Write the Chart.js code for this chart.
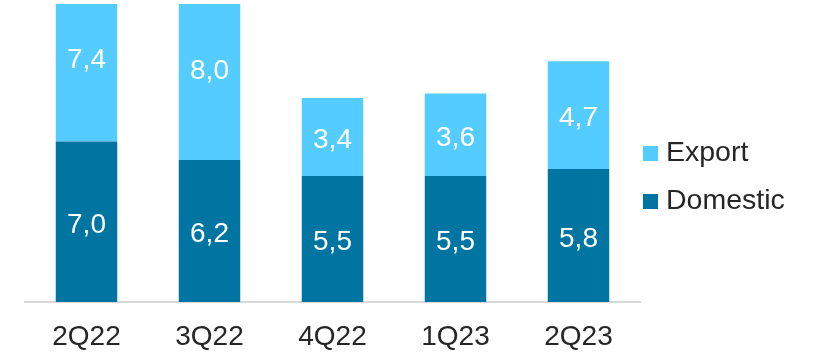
<!DOCTYPE html>
<html>
<head>
<meta charset="utf-8">
<script src="https://cdn.jsdelivr.net/npm/chart.js@4/dist/chart.umd.min.js"></script>
<style>
  html,body{margin:0;padding:0;background:#fff;}
  #wrap{width:833px;height:354px;position:relative;}
</style>
</head>
<body>
<div id="wrap"><canvas id="c" width="833" height="354"></canvas></div>
<script>
// quarters + series
const quarters = ['2Q22','3Q22','4Q22','1Q23','2Q23'];
const domestic = [7.0, 6.2, 5.5, 5.5, 5.8];
const exportV  = [7.4, 8.0, 3.4, 3.6, 4.7];

const C_DOM = '#0075A2';
const C_EXP = '#55CCFF';
const FONT = 'Liberation Sans, Arial, sans-serif';

const fmt = v => v.toFixed(1).replace('.', ',');

// value labels at centre of each (unclipped) segment, digits centred
const segLabels = {
  id:'segLabels',
  afterDatasetsDraw(chart){
    const ctx = chart.ctx;
    ctx.save();
    ctx.fillStyle = '#fff';
    ctx.font = '28px ' + FONT;
    ctx.textAlign = 'center';
    ctx.textBaseline = 'alphabetic';
    chart.data.datasets.forEach((ds,i)=>{
      chart.getDatasetMeta(i).data.forEach((bar,j)=>{
        const y = (bar.y + bar.base)/2;
        ctx.fillText(fmt(ds.data[j]), bar.x, y + 11);
      });
    });
    ctx.restore();
  }
};

// legend on the right, top series first
const sideLegend = {
  id:'sideLegend',
  afterDraw(chart){
    const ctx = chart.ctx;
    const items = chart.data.datasets.slice().reverse();
    ctx.save();
    ctx.font = '28.5px ' + FONT;
    ctx.textBaseline = 'alphabetic';
    items.forEach((ds,k)=>{
      const y = 146 + k*48;
      ctx.fillStyle = ds.backgroundColor;
      ctx.fillRect(643, y, 15, 15);
      ctx.fillStyle = '#262626';
      ctx.fillText(ds.label, 666, y + 15);
    });
    ctx.restore();
  }
};

new Chart(document.getElementById('c'), {
  type:'bar',
  data:{
    labels: quarters,
    datasets:[
      {label:'Domestic', data:domestic, backgroundColor:C_DOM, barPercentage:1, categoryPercentage:0.5},
      {label:'Export',   data:exportV,  backgroundColor:C_EXP, barPercentage:1, categoryPercentage:0.5}
    ]
  },
  options:{
    responsive:false,
    animation:false,
    layout:{padding:{left:25, right:193, top:4, bottom:0}},
    plugins:{legend:{display:false}, tooltip:{enabled:false}},
    scales:{
      x:{stacked:true,
         afterFit(s){ s.height = 52; },
         grid:{display:false, drawTicks:false},
         border:{color:'#d9d9d9', width:2},
         ticks:{color:'#262626', font:{size:28, family:FONT}, padding:18}},
      y:{stacked:true, display:false, min:0, max:13}
    }
  },
  plugins:[segLabels, sideLegend]
});
</script>
</body>
</html>
